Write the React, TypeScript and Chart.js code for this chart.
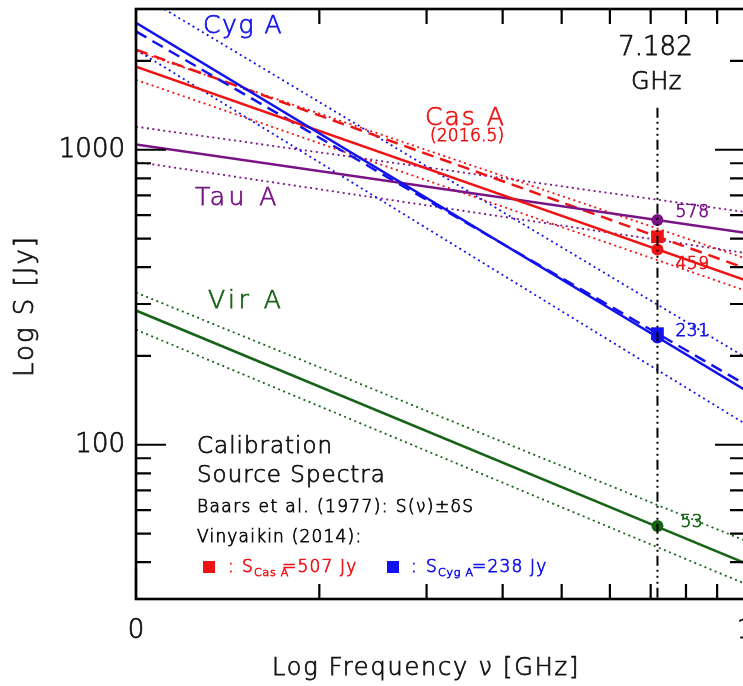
import React, { useEffect, useRef } from "react";
import { Chart, registerables } from "chart.js";

Chart.register(...registerables);

// ---------------- data ----------------
// Spectra are straight lines in log-log space; values (Jy) at 1 GHz and 10 GHz
const spectrumFreqsGHz = [1, 10];

const cygA_Baars = [2692, 153.5];
const cygA_Vinyaikin = [2518, 160.3];
const cygA_Upper = [3420, 198.2];
const cygA_Lower = [2183, 117.8];

const casA_Baars = [1914, 361.4];
const casA_Vinyaikin = [2183, 397.2];
const casA_Upper = [2158, 428.5];
const casA_Lower = [1726, 333.4];

const tauA_Baars = [1042, 523.6];
const tauA_Upper = [1197, 615.2];
const tauA_Lower = [909.9, 446.7];

const virA_Baars = [285.1, 39.7];
const virA_Upper = [328.1, 47.3];
const virA_Lower = [245.5, 33.8];

const observingFreqGHz = 7.182;
const markerSources = ["Tau A", "Cas A", "Cyg A", "Vir A"];
const baarsFluxAtObs = [578, 459, 231, 53];
const vinyaikinSources = ["Cas A", "Cyg A"];
const vinyaikinFluxAtObs = [507, 238];
const markerLineTopJy = 1388;

const xTickFreqsGHz = [1, 2, 3, 4, 5, 6, 7, 8, 9, 10];
const xTickLabels = ["0", "", "", "", "", "", "", "", "", "1"];
const yTickValues = [30, 40, 50, 60, 70, 80, 90, 100, 200, 300, 400, 500, 600, 700, 800, 900, 1000, 2000, 3000];
const yMajorTicks = [100, 1000];
const yMin = 30;
const yMax = 3000;

// ---------------- styles ----------------
const BLUE = "#1212ee";
const RED = "#ee1414";
const PURPLE = "#7a1486";
const GREEN = "#176417";
const FONT = '"DejaVu Sans", sans-serif';
const WEIGHT = "200";
const INK = "#111111";
const STROKE = 0.75;
const markerColors = [PURPLE, RED, BLUE, GREEN];
const vinyaikinColors = [RED, BLUE];

type Style = "solid" | "dash" | "dot";
function mkLine(label: string, vals: number[], color: string, style: Style) {
  return {
    label,
    data: spectrumFreqsGHz.map((f, i) => ({ x: Math.log10(f), y: vals[i] })),
    showLine: true,
    borderColor: color,
    backgroundColor: color,
    borderWidth: style === "dot" ? 1.8 : 2.5,
    borderDash: style === "dash" ? [12, 7] : style === "dot" ? [2, 3.5] : [],
    pointRadius: 0,
    fill: false,
    tension: 0,
  };
}

function drawText(
  ctx: CanvasRenderingContext2D,
  str: string,
  x: number,
  y: number,
  size: number,
  color: string,
  spacing = 0,
  align: CanvasTextAlign = "left",
  baseline: CanvasTextBaseline = "alphabetic"
) {
  ctx.font = `${WEIGHT} ${size}px ${FONT}`;
  ctx.fillStyle = color;
  ctx.strokeStyle = color;
  ctx.lineWidth = STROKE;
  ctx.setLineDash([]);
  ctx.textAlign = align;
  ctx.textBaseline = baseline;
  (ctx as any).letterSpacing = `${spacing}px`;
  ctx.fillText(str, x, y);
  ctx.strokeText(str, x, y);
}

const decorPlugin = {
  id: "decor",
  afterDatasetsDraw(chart: any) {
    const { ctx, chartArea: a, scales } = chart;
    const xs = scales.x;
    const ys = scales.y;
    ctx.save();
    ctx.strokeStyle = "#000";
    ctx.lineWidth = 2.2;
    ctx.setLineDash([]);
    xs.ticks.forEach((t: any, i: number) => {
      const px = xs.getPixelForValue(t.value);
      const len = xTickLabels[i] ? 30 : 15;
      ctx.beginPath();
      ctx.moveTo(px, a.bottom);
      ctx.lineTo(px, a.bottom - len);
      ctx.moveTo(px, a.top);
      ctx.lineTo(px, a.top + len);
      ctx.stroke();
    });
    ys.ticks.forEach((t: any) => {
      const py = ys.getPixelForValue(t.value);
      const len = yMajorTicks.includes(t.value) ? 30 : 15;
      ctx.beginPath();
      ctx.moveTo(a.left, py);
      ctx.lineTo(a.left + len, py);
      ctx.moveTo(a.right, py);
      ctx.lineTo(a.right - len, py);
      ctx.stroke();
    });
    ctx.lineWidth = 2.6;
    ctx.strokeRect(a.left, a.top, a.right - a.left, a.bottom - a.top);
    ctx.restore();
  },
  afterDraw(chart: any) {
    const { ctx, chartArea: a, scales } = chart;
    const xs = scales.x;
    const ys = scales.y;
    const L = a.left;
    const T = a.top;
    ctx.save();

    drawText(ctx, "Log Frequency \u03bd [GHz]", L + 136, a.bottom + 76, 24, INK, 1.8);
    ctx.save();
    ctx.translate(33, (a.top + a.bottom) / 2 + 2);
    ctx.rotate(-Math.PI / 2);
    drawText(ctx, "Log S [Jy]", 0, 0, 26, INK, 2, "center");
    ctx.restore();

    drawText(ctx, "Cyg A", L + 67, T + 24, 25, BLUE, 1.6);
    drawText(ctx, "Cas A", L + 289, T + 116, 25, RED, 2);
    drawText(ctx, "(2016.5)", L + 294, T + 132, 17, RED, 0.2);
    drawText(ctx, "Tau A", L + 59, T + 196, 25, PURPLE, 3.5);
    drawText(ctx, "Vir A", L + 72, T + 299, 25, GREEN, 3.5);

    const fx = xs.getPixelForValue(Math.log10(observingFreqGHz));
    drawText(ctx, String(observingFreqGHz), fx - 2, T + 46, 26, INK, 0, "center");
    drawText(ctx, "GHz", fx - 1, T + 80, 24, INK, 0.5, "center");

    const valueOffsets = [-7, 15, -6, -4];
    const valueDx = [18, 18, 18, 23];
    markerSources.forEach((_, i) => {
      const py = ys.getPixelForValue(baarsFluxAtObs[i]);
      drawText(ctx, String(baarsFluxAtObs[i]), fx + valueDx[i], py + valueOffsets[i], 17, markerColors[i], 0.6, "left", "middle");
    });

    const bx = L + 61;
    drawText(ctx, "Calibration", bx, 453, 23, INK, 1);
    drawText(ctx, "Source Spectra", bx, 482, 23, INK, 1);
    drawText(ctx, "Baars et al. (1977): S(\u03bd)\u00b1\u03b4S", bx, 512, 17, INK, 1.4);
    drawText(ctx, "Vinyaikin (2014):", bx, 542, 17, INK, 1.2);
    ctx.fillStyle = RED;
    ctx.fillRect(bx + 6, 561, 12, 12);
    drawText(ctx, ":", bx + 31, 572, 17, RED);
    drawText(ctx, "S", bx + 45, 572, 17, RED);
    drawText(ctx, vinyaikinSources[0], bx + 57, 576, 11, RED, 0.8);
    drawText(ctx, `=${vinyaikinFluxAtObs[0]} Jy`, bx + 85, 572, 17, RED, 1.2);
    ctx.fillStyle = BLUE;
    ctx.fillRect(bx + 190, 561, 12, 12);
    drawText(ctx, ":", bx + 214, 572, 17, BLUE);
    drawText(ctx, "S", bx + 229, 572, 17, BLUE);
    drawText(ctx, vinyaikinSources[1], bx + 241, 576, 11, BLUE, 0.8);
    drawText(ctx, `=${vinyaikinFluxAtObs[1]} Jy`, bx + 275, 572, 17, BLUE, 1.2);

    ctx.restore();
  },
};

export default function App() {
  const canvasRef = useRef<HTMLCanvasElement | null>(null);

  useEffect(() => {
    const canvas = canvasRef.current;
    if (!canvas) return;
    const obsX = Math.log10(observingFreqGHz);

    const datasets: any[] = [
      {
        label: "7.182 GHz",
        data: [
          { x: obsX, y: markerLineTopJy },
          { x: obsX, y: yMin },
        ],
        showLine: true,
        borderColor: "#000",
        borderWidth: 2,
        borderDash: [10, 4, 2, 4, 2, 4, 2, 4],
        pointRadius: 0,
        clip: false,
      },
      {
        label: "Baars at 7.182 GHz",
        data: baarsFluxAtObs.map((v) => ({ x: obsX, y: v })),
        showLine: false,
        pointStyle: "circle",
        pointRadius: 6,
        pointBorderWidth: 0,
        pointBackgroundColor: markerColors,
        pointBorderColor: markerColors,
      },
      {
        label: "Vinyaikin at 7.182 GHz",
        data: vinyaikinFluxAtObs.map((v) => ({ x: obsX, y: v })),
        showLine: false,
        pointStyle: "rect",
        pointRadius: 9,
        pointBorderWidth: 0,
        pointBackgroundColor: vinyaikinColors,
        pointBorderColor: vinyaikinColors,
      },
      mkLine("Cyg A", cygA_Baars, BLUE, "solid"),
      mkLine("Cas A", casA_Baars, RED, "solid"),
      mkLine("Tau A", tauA_Baars, PURPLE, "solid"),
      mkLine("Vir A", virA_Baars, GREEN, "solid"),
      mkLine("Cyg A Vinyaikin", cygA_Vinyaikin, BLUE, "dash"),
      mkLine("Cas A Vinyaikin", casA_Vinyaikin, RED, "dash"),
      mkLine("Cyg A +", cygA_Upper, BLUE, "dot"),
      mkLine("Cyg A -", cygA_Lower, BLUE, "dot"),
      mkLine("Cas A +", casA_Upper, RED, "dot"),
      mkLine("Cas A -", casA_Lower, RED, "dot"),
      mkLine("Tau A +", tauA_Upper, PURPLE, "dot"),
      mkLine("Tau A -", tauA_Lower, PURPLE, "dot"),
      mkLine("Vir A +", virA_Upper, GREEN, "dot"),
      mkLine("Vir A -", virA_Lower, GREEN, "dot"),
    ];

    const tickFont = { family: FONT, size: 26, weight: WEIGHT };

    const chart = new Chart(canvas, {
      type: "scatter",
      data: { datasets },
      options: {
        animation: false,
        responsive: false,
        events: [],
        layout: { padding: { top: 9, right: 15, left: 0, bottom: 0 } },
        plugins: { legend: { display: false }, tooltip: { enabled: false } },
        scales: {
          x: {
            type: "linear",
            min: 0,
            max: 1,
            border: { display: false },
            grid: { display: false, drawTicks: false },
            afterBuildTicks: (scale: any) => {
              scale.ticks = xTickFreqsGHz.map((f) => ({ value: Math.log10(f) }));
            },
            afterFit: (scale: any) => {
              scale.height = 87;
              scale.paddingLeft = 0;
              scale.paddingRight = 0;
            },
            ticks: {
              autoSkip: false,
              maxRotation: 0,
              minRotation: 0,
              padding: 17,
              color: INK,
              textStrokeColor: INK,
              textStrokeWidth: STROKE,
              font: tickFont,
              callback: (_v: any, i: number) => xTickLabels[i],
            },
          },
          y: {
            type: "logarithmic",
            min: yMin,
            max: yMax,
            border: { display: false },
            grid: { display: false, drawTicks: false },
            afterBuildTicks: (scale: any) => {
              scale.ticks = yTickValues.map((v) => ({ value: v }));
            },
            afterFit: (scale: any) => {
              scale.width = 136;
              scale.paddingTop = 0;
              scale.paddingBottom = 0;
            },
            ticks: {
              autoSkip: false,
              padding: 11,
              color: INK,
              textStrokeColor: INK,
              textStrokeWidth: STROKE,
              font: tickFont,
              callback: (v: any) => (yMajorTicks.includes(Number(v)) ? String(v) : ""),
            },
          },
        },
      } as any,
      plugins: [decorPlugin],
    });

    return () => chart.destroy();
  }, []);

  return (
    <div
      style={{
        position: "fixed",
        left: 0,
        top: 0,
        width: 743,
        height: 686,
        overflow: "hidden",
        background: "#fff",
      }}
    >
      <canvas ref={canvasRef} width={760} height={686} style={{ display: "block" }} />
    </div>
  );
}
